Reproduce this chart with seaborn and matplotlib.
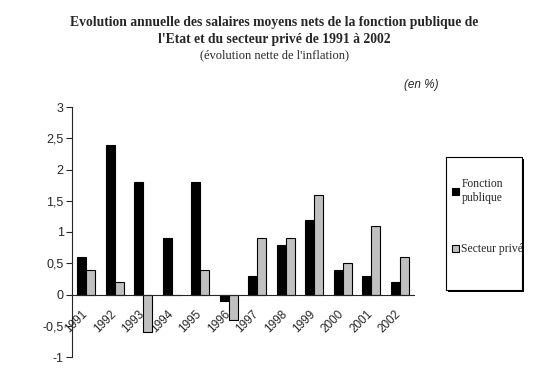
import numpy as np
import pandas as pd
import matplotlib
matplotlib.use('Agg')
import matplotlib.pyplot as plt
import matplotlib.transforms as mtransforms
import seaborn as sns
from matplotlib.ticker import FuncFormatter
from matplotlib.patches import Rectangle

# données
annees = ['1991', '1992', '1993', '1994', '1995', '1996',
          '1997', '1998', '1999', '2000', '2001', '2002']
fonction_publique = [0.6, 2.4, 1.8, 0.9, 1.8, -0.1, 0.3, 0.8, 1.2, 0.4, 0.3, 0.2]
secteur_prive = [0.4, 0.2, -0.6, 0.0, 0.4, -0.4, 0.9, 0.9, 1.6, 0.5, 1.1, 0.6]
series = ['Fonction\npublique', 'Secteur privé']

df = pd.DataFrame({'annee': annees * 2,
                   'valeur': fonction_publique + secteur_prive,
                   'serie': [series[0]] * len(annees) + [series[1]] * len(annees)})

sns.set_style('white')
plt.rcParams['font.family'] = ['Liberation Sans', 'DejaVu Sans']

W, H = 548, 378
fig = plt.figure(figsize=(W / 100, H / 100), dpi=100)
ax = fig.add_axes([72 / W, 21 / H, 342 / W, 250 / H])

sns.barplot(data=df, x='annee', y='valeur', hue='serie',
            palette=['#000000', '#c0c0c0'], width=0.64,
            edgecolor='black', linewidth=0.8, saturation=1, ax=ax)

ax.set_ylim(-1, 3)
ax.set_yticks(np.arange(-1, 3.01, 0.5))
ax.yaxis.set_major_formatter(FuncFormatter(lambda v, p: ('%g' % v).replace('.', ',')))
ax.tick_params(axis='y', length=4, width=0.8, direction='out', left=True, labelsize=9, pad=2)
ax.tick_params(axis='x', length=0, labelsize=8.5, pad=10)
ax.set_xlim(-0.5, len(annees) - 0.5)

for s in ['top', 'right']:
    ax.spines[s].set_visible(False)
ax.spines['left'].set_linewidth(0.8)
ax.spines['bottom'].set_position(('data', 0))
ax.spines['bottom'].set_linewidth(0.8)

# étiquettes des années en diagonale, un peu décalées vers la gauche
decalage = mtransforms.ScaledTranslation(-5 / 100, 0, fig.dpi_scale_trans)
for lab in ax.get_xticklabels():
    lab.set_rotation(45)
    lab.set_ha('right')
    lab.set_va('top')
    lab.set_rotation_mode('anchor')
    lab.set_transform(lab.get_transform() + decalage)
ax.set_xlabel('')
ax.set_ylabel('')

# cadre de légende avec ombre
bx, by, bw, bh = 446, 157, 76, 133
fig.patches.append(Rectangle(((bx + 2) / W, 1 - (by + bh + 2) / H), bw / W, bh / H,
                             transform=fig.transFigure, facecolor='black', edgecolor='none', zorder=1))
fig.patches.append(Rectangle((bx / W, 1 - (by + bh) / H), bw / W, bh / H,
                             transform=fig.transFigure, facecolor='white', edgecolor='black',
                             linewidth=0.8, zorder=2))

handles, labels = ax.get_legend_handles_labels()
ax.get_legend().remove()
leg = fig.legend(handles, labels, loc='upper left', bbox_to_anchor=(452 / W, 1 - 178 / H),
                 frameon=False, handlelength=0.6, handleheight=0.6, handletextpad=0.2,
                 labelspacing=3.4, borderpad=0, borderaxespad=0,
                 prop={'family': 'Liberation Serif', 'size': 8.4})
leg.set_zorder(5)

fig.text(0.5, 1 - 16 / H, "Evolution annuelle des salaires moyens nets de la fonction publique de\n"
         "l'Etat et du secteur privé de 1991 à 2002",
         ha='center', va='top', fontsize=9.8, fontweight='bold',
         family='Liberation Serif', linespacing=1.45)
fig.text(0.5, 1 - 49 / H, "(évolution nette de l'inflation)", ha='center', va='top',
         fontsize=9, family='Liberation Serif')
fig.text(438 / W, 1 - 85 / H, '(en %)', ha='right', va='center', fontsize=8.5, style='italic')

fig.savefig('out.png', dpi=100)
